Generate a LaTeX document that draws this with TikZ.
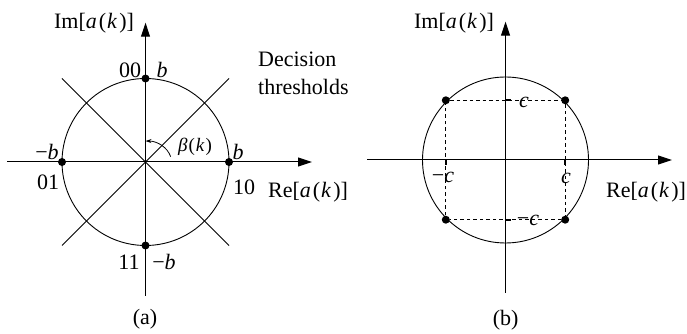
\documentclass[tikz,border=0pt]{standalone}
\usepackage{fontspec}
\setmainfont{Liberation Serif}
\usetikzlibrary{arrows.meta}
\newcommand{\imlab}{Im[\textit{a}\kern2pt(\kern1pt\textit{k}\kern2pt)]}
\newcommand{\relab}{Re[\textit{a}\kern2pt(\kern1pt\textit{k}\kern2pt)]}
\begin{document}
\begin{tikzpicture}[x=1pt,y=1pt,
  lab/.style={inner sep=0pt, font=\fontsize{22}{27}\selectfont},
  smlab/.style={inner sep=0pt, font=\fontsize{19}{23}\selectfont},
  dotnode/.style={circle, fill=black, inner sep=0pt, minimum size=8pt},
  axisline/.style={line width=1pt, -{Triangle[length=14pt,width=9pt]}},
  thin line/.style={line width=0.9pt},
  dashline/.style={line width=0.8pt, dash pattern=on 3.5pt off 3pt},
  tickline/.style={line width=1.8pt}]
\useasboundingbox (0,0) rectangle (687,334);
% ---------- (a) ----------
\coordinate (O1) at (145.5,172);
\coordinate (aL) at (7,172);
\coordinate (aR) at (312,172);
\coordinate (aB) at (145.5,38);
\coordinate (aT) at (145.5,311.3);
\coordinate (d1a) at (62,255.5);
\coordinate (d1b) at (229,88.5);
\coordinate (d2a) at (62,88.5);
\coordinate (d2b) at (229,255.5);
\draw[axisline] (aL) -- (aR);
\draw[axisline] (aB) -- (aT);
\draw[thin line] (d1a) -- (d1b);
\draw[thin line] (d2a) -- (d2b);
\draw[thin line] (O1) circle[radius=83.5];
\node[dotnode] (p00) at (145.5,255.5) {};
\node[dotnode] (p11) at (145.5,88.5) {};
\node[dotnode] (p01) at (62,172) {};
\node[dotnode] (p10) at (229,172) {};
\coordinate (arcS) at (170.6,177.4);
\draw[line width=0.8pt, -{Stealth[length=6pt,width=4pt]}] (arcS) arc[start angle=15, end angle=90, x radius=26, y radius=21];
\node[lab] (imA) at (94,311) {\imlab};
\node[lab] (l00) at (130,263.5) {00};
\node[lab] (b1) at (162,264) {\textit{b}};
\node[lab] (mb1) at (47,182) {−\textit{b}};
\node[lab] (b2) at (238,182) {\textit{b}};
\node[lab] (l01) at (48,152) {01};
\node[lab] (l10) at (244,147) {10};
\node[lab] (reA) at (308,142) {\relab};
\node[lab] (l11) at (129,72) {11};
\node[lab] (mb2) at (164,72) {−\textit{b}};
\node[smlab] (beta) at (195,187) {\textit{β}\kern1pt(\kern1pt\textit{k}\kern1pt)};
\node[lab, anchor=base west] (dec) at (258,267.3) {Decision};
\node[lab, anchor=base west] (thr) at (258,239) {thresholds};
\node[lab] (capA) at (145,15) {(a)};
% ---------- (b) ----------
\coordinate (O2) at (505.5,174);
\coordinate (bL) at (367,174);
\coordinate (bR) at (672,174);
\coordinate (bB) at (505.5,41);
\coordinate (bT) at (505.5,312.3);
\draw[axisline] (bL) -- (bR);
\draw[axisline] (bB) -- (bT);
\draw[thin line] (O2) circle[radius=83];
\node[dotnode] (q1) at (445.8,233.7) {};
\node[dotnode] (q2) at (565.2,233.7) {};
\node[dotnode] (q3) at (565.2,114.3) {};
\node[dotnode] (q4) at (445.8,114.3) {};
\draw[dashline] (q1) -- (q2);
\draw[dashline] (q2) -- (q3);
\draw[dashline] (q3) -- (q4);
\draw[dashline] (q4) -- (q1);
\coordinate (t1a) at (445.8,174);
\coordinate (t1b) at (445.8,169);
\coordinate (t2a) at (565.2,174);
\coordinate (t2b) at (565.2,169);
\coordinate (t3a) at (505.5,233.7);
\coordinate (t3b) at (510.5,233.7);
\coordinate (t4a) at (505.5,114.3);
\coordinate (t4b) at (510.5,114.3);
\draw[tickline] (t1a) -- (t1b);
\draw[tickline] (t2a) -- (t2b);
\draw[tickline] (t3a) -- (t3b);
\draw[tickline] (t4a) -- (t4b);
\node[lab] (c1) at (524,232) {\textit{c}};
\node[lab] (mc1) at (443,157) {−\textit{c}};
\node[lab] (c2) at (566,156) {\textit{c}};
\node[lab] (mc2) at (528,114) {−\textit{c}};
\node[lab] (imB) at (454,311) {\imlab};
\node[lab] (reB) at (646,142) {\relab};
\node[lab] (capB) at (505.7,14) {(b)};
\end{tikzpicture}
\end{document}
